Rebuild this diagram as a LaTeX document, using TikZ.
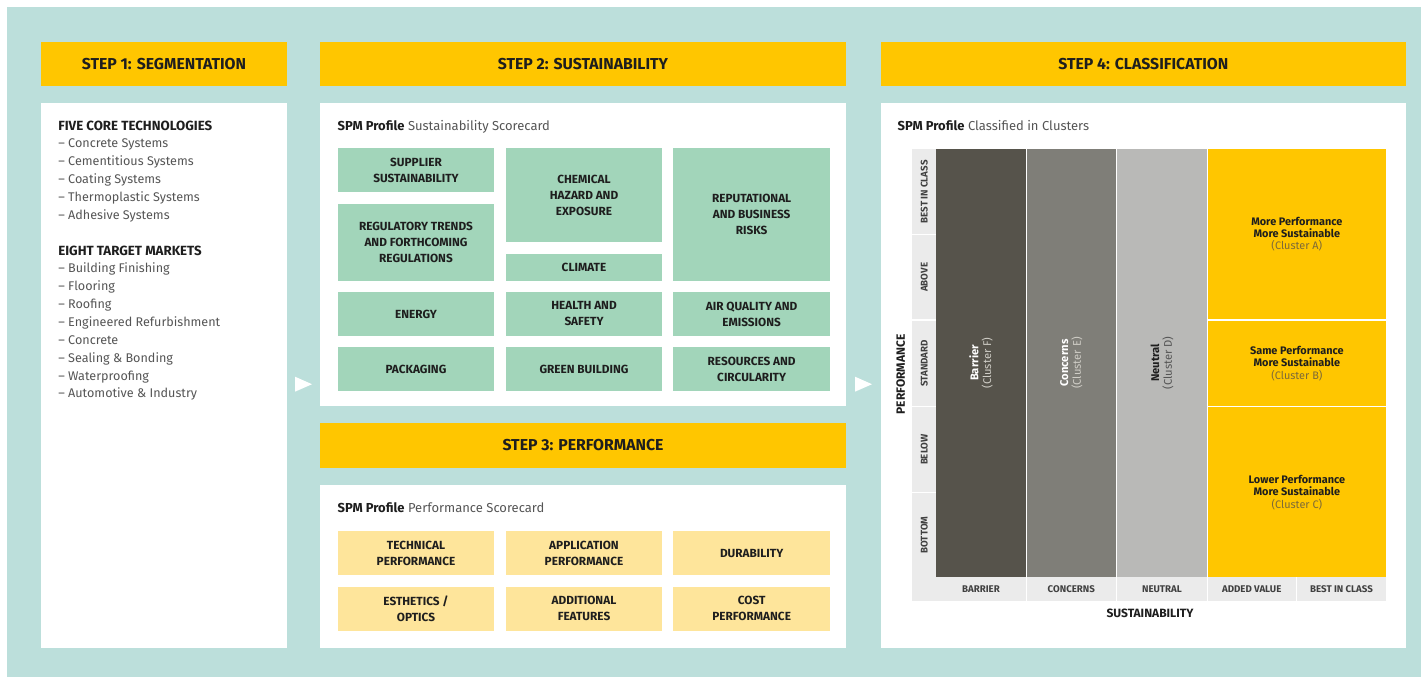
\documentclass[tikz,border=0pt]{standalone}
\usepackage{fontspec}
\setmainfont{Fira Sans}
\definecolor{bgteal}{HTML}{BCDFDB}
\definecolor{hdryellow}{HTML}{FFC600}
\definecolor{boxgreen}{HTML}{A2D5BA}
\definecolor{boxpale}{HTML}{FEE59B}
\definecolor{cbarrier}{HTML}{56534B}
\definecolor{cconcern}{HTML}{7F7E78}
\definecolor{cneutral}{HTML}{B9B9B7}
\definecolor{bandgray}{HTML}{EBEBEB}
\definecolor{txtdark}{HTML}{1E1E1E}
\definecolor{txtgray}{HTML}{555555}
\definecolor{clbrown}{HTML}{7D6A38}
\definecolor{cllight}{HTML}{CFCDC6}
\newcommand\rbox[7]{\node[#1, minimum width={(#5)-(#3)}, minimum height={(#6)-(#4)}] (#2) at ({((#3)+(#5))/2},{((#4)+(#6))/2}) {#7};}
\begin{document}
\begin{tikzpicture}[x=1pt,y=-1pt,
  every node/.style={inner sep=0pt, outer sep=0pt},
  hdr/.style={fill=hdryellow, text=txtdark, font=\fontsize{15.8}{18}\selectfont\bfseries},
  panel/.style={fill=white},
  gbox/.style={fill=boxgreen, text=txtdark, align=center, font=\fontsize{11.8}{16}\selectfont\bfseries},
  pbox/.style={fill=boxpale, text=txtdark, align=center, font=\fontsize{11.8}{16}\selectfont\bfseries},
  listtxt/.style={anchor=base west, text=txtgray, font=\fontsize{12.6}{14}\selectfont},
  listhead/.style={anchor=base west, text=txtdark, font=\fontsize{13.3}{14}\selectfont\bfseries},
  spm/.style={anchor=base west, text=txtgray, font=\fontsize{13}{14}\selectfont},
  ylab/.style={rotate=90, text=txtdark!85, font=\fontsize{9.7}{10}\selectfont\bfseries},
  xlab/.style={text=txtdark!85, font=\fontsize{9.7}{10}\selectfont\bfseries},
  axlab/.style={text=txtdark, font=\fontsize{12}{13}\selectfont\bfseries},
  cltxt/.style={align=center, text=txtdark, font=\fontsize{10.9}{12.3}\selectfont},
  rottxt/.style={rotate=90, align=center, font=\fontsize{11.2}{12.7}\selectfont},
  stepmark/.style={fill=white}
]
\useasboundingbox (0,0) rectangle (1421,677);
\fill[white] (0,0) rectangle (1421,677);
\fill[bgteal] (7,7) rectangle (1421,677);

% ---------- STEP 1 ----------
\rbox{hdr}{h1}{41}{41.7}{287}{86}{STEP 1: SEGMENTATION}
\rbox{panel}{p1}{41}{102.7}{287}{647.7}{}
\node[listhead] (l0) at (58.3,130) {FIVE CORE TECHNOLOGIES};
\foreach \t [count=\i] in {Concrete Systems,Cementitious Systems,Coating Systems,Thermoplastic Systems,Adhesive Systems}
  \node[listtxt] (la\i) at (58.3,{130+17.86*\i}) {– \t};
\node[listhead] (l7) at (58.3,{130+17.86*7}) {EIGHT TARGET MARKETS};
\foreach \t [count=\i] in {Building Finishing,Flooring,Roofing,Engineered Refurbishment,Concrete,Sealing \& Bonding,Waterproofing,Automotive \& Industry}
  \node[listtxt] (lb\i) at (58.3,{130+17.86*(7+\i)}) {– \t};

% ---------- STEP 2 ----------
\rbox{hdr}{h2}{320}{41.7}{846}{86}{STEP 2: SUSTAINABILITY}
\rbox{panel}{p2}{320}{102.7}{846}{405.7}{}
\node[spm] (spm2) at (337.7,130.5) {\textbf{\color{txtdark}SPM Profile} Sustainability Scorecard};
\rbox{gbox}{supp}{337.7}{148.3}{494.3}{192.3}{SUPPLIER\\SUSTAINABILITY}
\rbox{gbox}{regu}{337.7}{203.7}{494.3}{281}{REGULATORY TRENDS\\AND FORTHCOMING\\REGULATIONS}
\rbox{gbox}{chem}{505.7}{148.3}{662.3}{242.3}{CHEMICAL\\HAZARD AND\\EXPOSURE}
\rbox{gbox}{clim}{505.7}{254.3}{662.3}{281}{CLIMATE}
\rbox{gbox}{repu}{673.3}{148.3}{830}{281}{REPUTATIONAL\\AND BUSINESS\\RISKS}
\rbox{gbox}{ener}{337.7}{292}{494.3}{336}{ENERGY}
\rbox{gbox}{heal}{505.7}{292}{662.3}{336}{HEALTH AND\\SAFETY}
\rbox{gbox}{airq}{673.3}{292}{830}{336}{AIR QUALITY AND\\EMISSIONS}
\rbox{gbox}{pack}{337.7}{347}{494.3}{391}{PACKAGING}
\rbox{gbox}{gree}{505.7}{347}{662.3}{391}{GREEN BUILDING}
\rbox{gbox}{reso}{673.3}{347}{830}{391}{RESOURCES AND\\CIRCULARITY}

% ---------- STEP 3 ----------
\rbox{hdr}{h3}{320}{423.3}{846}{467.7}{STEP 3: PERFORMANCE}
\rbox{panel}{p3}{320}{485}{846}{648}{}
\node[spm] (spm3) at (337.7,512.5) {\textbf{\color{txtdark}SPM Profile} Performance Scorecard};
\rbox{pbox}{tech}{337.7}{531.3}{494.3}{575.3}{TECHNICAL\\PERFORMANCE}
\rbox{pbox}{appl}{505.7}{531.3}{662.3}{575.3}{APPLICATION\\PERFORMANCE}
\rbox{pbox}{dura}{673.3}{531.3}{830}{575.3}{DURABILITY}
\rbox{pbox}{esth}{337.7}{586.7}{494.3}{630.7}{ESTHETICS /\\OPTICS}
\rbox{pbox}{addi}{505.7}{586.7}{662.3}{630.7}{ADDITIONAL\\FEATURES}
\rbox{pbox}{cost}{673.3}{586.7}{830}{630.7}{COST\\PERFORMANCE}

% ---------- STEP 4 ----------
\rbox{hdr}{h4}{880.7}{41.7}{1406}{86}{STEP 4: CLASSIFICATION}
\rbox{panel}{p4}{880.7}{102.7}{1406}{647.7}{}
\node[spm] (spm4) at (897.7,130.5) {\textbf{\color{txtdark}SPM Profile} Classified in Clusters};

% axis bands
\fill[bandgray] (912.3,149) rectangle (936.3,600.7);
\fill[bandgray] (912.3,577.3) rectangle (1386,600.7);
\foreach \yy in {234.7,320,406.7,492.7}
  \draw[white, line width=1.2pt] (912.3,\yy) -- (936.3,\yy);
\foreach \xx in {1026.2,1116.5,1207.2,1296.7}
  \draw[white, line width=1.2pt] (\xx,577.3) -- (\xx,600.7);

% cluster cells
\rbox{fill=cbarrier}{cf}{936.3}{149}{1025.7}{577.3}{}
\rbox{fill=cconcern}{ce}{1026.7}{149}{1116}{577.3}{}
\rbox{fill=cneutral}{cd}{1117}{149}{1206.7}{577.3}{}
\rbox{fill=hdryellow}{ca}{1207.7}{149}{1386}{319.3}{}
\rbox{fill=hdryellow}{cb}{1207.7}{320.7}{1386}{406}{}
\rbox{fill=hdryellow}{cc}{1207.7}{407.4}{1386}{577.3}{}

\node[rottxt, text=white] (tf) at (981,363) {\textbf{Barrier}\\{\color{cllight}(Cluster F)}};
\node[rottxt, text=white] (te) at (1071.3,363) {\textbf{Concerns}\\{\color{cllight}(Cluster E)}};
\node[rottxt, text=txtdark] (td) at (1162,363) {\textbf{Neutral}\\{\color{txtgray}(Cluster D)}};
\node[cltxt] (ta) at (ca.center) {\textbf{More Performance}\\\textbf{More Sustainable}\\{\color{clbrown}(Cluster A)}};
\node[cltxt] (tb) at (cb.center) {\textbf{Same Performance}\\\textbf{More Sustainable}\\{\color{clbrown}(Cluster B)}};
\node[cltxt] (tc) at (cc.center) {\textbf{Lower Performance}\\\textbf{More Sustainable}\\{\color{clbrown}(Cluster C)}};

% axis labels
\node[ylab] (y1) at (924.3,191.8) {BEST IN CLASS};
\node[ylab] (y2) at (924.3,277.3) {ABOVE};
\node[ylab] (y3) at (924.3,363.3) {STANDARD};
\node[ylab] (y4) at (924.3,449.7) {BELOW};
\node[ylab] (y5) at (924.3,535) {BOTTOM};
\node[xlab] (x1) at (981,589) {BARRIER};
\node[xlab] (x2) at (1071.3,589) {CONCERNS};
\node[xlab] (x3) at (1162,589) {NEUTRAL};
\node[xlab] (x4) at (1251.7,589) {ADDED VALUE};
\node[xlab] (x5) at (1341.5,589) {BEST IN CLASS};
\node[axlab, rotate=90] (yax) at (900.7,374.5) {PERFORMANCE};
\node[axlab] (xax) at (1150,613.3) {SUSTAINABILITY};

% step markers
\coordinate (m1a) at (295,376.7); \coordinate (m1b) at (312,384.2); \coordinate (m1c) at (295,391.7);
\fill[stepmark] (m1a) -- (m1b) -- (m1c) -- cycle;
\coordinate (m2a) at (855,376.7); \coordinate (m2b) at (872,384.2); \coordinate (m2c) at (855,391.7);
\fill[stepmark] (m2a) -- (m2b) -- (m2c) -- cycle;
\end{tikzpicture}
\end{document}
